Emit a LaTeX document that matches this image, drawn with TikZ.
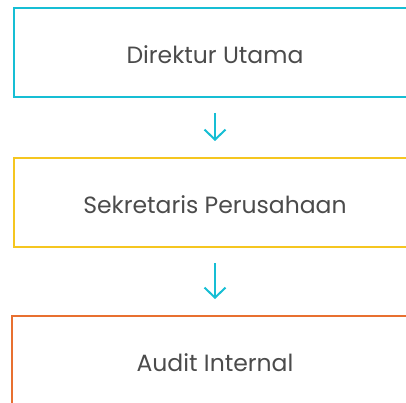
\documentclass[tikz,border=0pt]{standalone}
\usepackage{fontspec}
\setmainfont{Poppins}
\usetikzlibrary{arrows.meta,positioning}
\definecolor{cyan}{RGB}{22,190,212}
\definecolor{gold}{RGB}{245,198,32}
\definecolor{orange}{RGB}{232,112,48}
\definecolor{ink}{RGB}{75,75,75}

\begin{document}
\begin{tikzpicture}[x=1pt,y=-1pt,>={Straight Barb[length=10pt,width=21pt]},
  box/.style={draw=#1,line width=2pt,minimum width=402pt,minimum height=89pt,inner sep=0pt,
    text=ink,font=\fontsize{23.5}{28}\selectfont,text height=21.5pt,text depth=0pt},
  flow/.style={->,cyan,line width=2pt,shorten <=15pt,shorten >=16pt}]
\useasboundingbox (0,0) rectangle (406,403);
\clip (0,0) rectangle (406,403);
\node[box=cyan] (direktur) at (215,52.5) {Direktur Utama};
\node[box=gold] (sekretaris) at (215,202.5) {Sekretaris Perusahaan};
\node[box=orange,minimum width=406pt] (audit) at (215,360.5) {Audit Internal};
\draw[flow] (direktur) -- (sekretaris);
\draw[flow] (sekretaris) -- (audit);
\end{tikzpicture}
\end{document}
